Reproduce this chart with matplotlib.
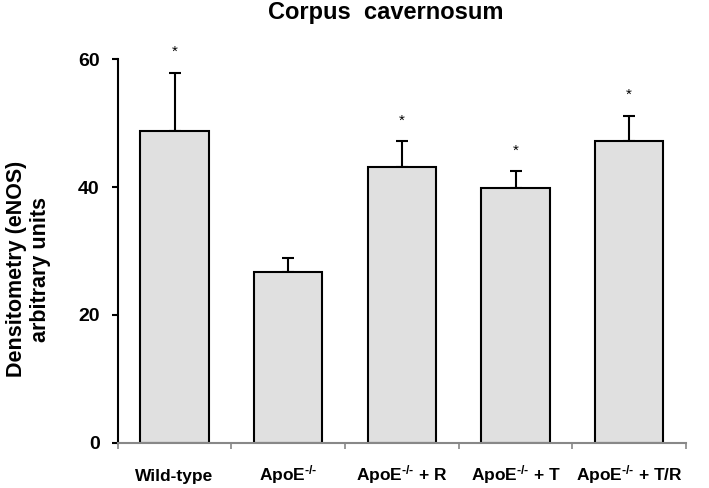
import numpy as np
import matplotlib
matplotlib.use('Agg')
import matplotlib.pyplot as plt

plt.rcParams['font.family'] = ['Liberation Sans', 'DejaVu Sans']
plt.rcParams['mathtext.fontset'] = 'custom'
plt.rcParams['mathtext.rm'] = 'Liberation Sans:bold'
plt.rcParams['mathtext.bf'] = 'Liberation Sans:bold'
plt.rcParams['mathtext.default'] = 'bf'

# data
groups = ['Wild-type', 'ApoE$^{\u2010/\u2010}$', 'ApoE$^{\u2010/\u2010}$ + R',
          'ApoE$^{\u2010/\u2010}$ + T', 'ApoE$^{\u2010/\u2010}$ + T/R']
means = [48.8, 26.7, 43.2, 39.8, 47.2]
errors = [9.1, 2.2, 4.0, 2.7, 4.0]
signif = ['*', '', '*', '*', '*']
yticks = [0, 20, 40, 60]

fig = plt.figure(figsize=(7.09, 4.88), dpi=100)
ax = fig.add_axes([0.166, 0.0928, 0.8016, 0.7857])

x = np.arange(len(groups))
ax.bar(x, means, width=0.6, color='#e0e0e0', edgecolor='black', linewidth=1.5, zorder=2)
ax.errorbar(x, means, yerr=[np.zeros(len(means)), errors], fmt='none', ecolor='black',
            elinewidth=1.5, capsize=4, capthick=1.5, zorder=1)

# asterisks above the error bars
for xi, m, e, s in zip(x, means, errors, signif):
    if s:
        ax.text(xi, m + e + 3.2, s, ha='center', va='center', fontsize=11, clip_on=False)

ax.set_xlim(-0.5, len(groups) - 0.5)
ax.set_ylim(0, 60)
ax.set_yticks(yticks)
ax.set_yticklabels([str(t) for t in yticks], fontsize=14, fontweight='bold')
ax.tick_params(axis='y', direction='out', length=4, width=1.5, pad=9)

# ticks on x at the category boundaries, labels drawn on a common baseline
ax.set_xticks(np.arange(-0.5, len(groups), 1.0))
ax.set_xticklabels([])
ax.tick_params(axis='x', direction='out', length=4, width=1.2, color='#888888')
for xi, g in zip(x, groups):
    ax.annotate(g, xy=(xi, 0), xycoords=('data', 'axes fraction'), xytext=(0, -27.4),
                textcoords='offset points', ha='center', va='baseline',
                fontsize=12.5, fontweight='bold')

ax.spines['top'].set_visible(False)
ax.spines['right'].set_visible(False)
ax.spines['left'].set_linewidth(1.5)
ax.spines['bottom'].set_color('#888888')
ax.spines['bottom'].set_linewidth(1.5)

ax.set_ylabel('Densitometry (eNOS)\narbitrary units', fontsize=15.5, fontweight='bold')
ax.yaxis.set_label_coords(-0.117, 0.453)
fig.text(0.544, 0.974, 'Corpus  cavernosum', ha='center', va='center', fontsize=17, fontweight='bold')

fig.savefig('out.png', dpi=100)
